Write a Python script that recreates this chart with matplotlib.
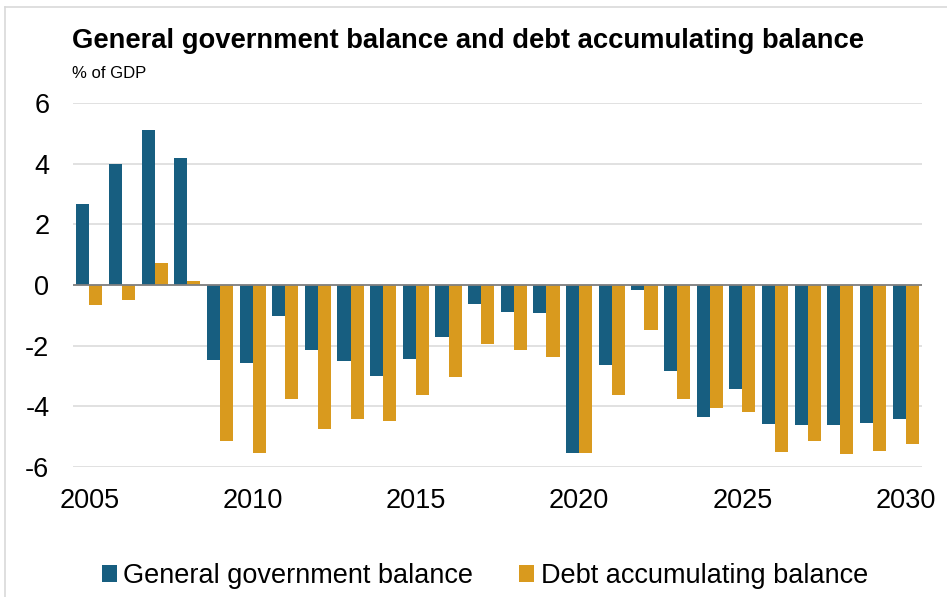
import matplotlib
matplotlib.use("Agg")
import matplotlib.pyplot as plt
from matplotlib.patches import Patch
from matplotlib.lines import Line2D
import numpy as np

plt.rcParams['font.family'] = ['Liberation Sans', 'DejaVu Sans']

years = list(range(2005, 2031))
gg_balance = [2.67, 4.0, 5.1, 4.18, -2.47, -2.57, -1.01, -2.15, -2.51, -2.99,
              -2.43, -1.70, -0.63, -0.88, -0.93, -5.54, -2.65, -0.16, -2.85, -4.35,
              -3.42, -4.57, -4.63, -4.62, -4.54, -4.43]
debt_acc_balance = [-0.67, -0.49, 0.74, 0.13, -5.15, -5.54, -3.76, -4.74, -4.41, -4.48,
                    -3.62, -3.04, -1.96, -2.15, -2.36, -5.54, -3.63, -1.49, -3.77, -4.04,
                    -4.19, -5.51, -5.14, -5.56, -5.47, -5.25]
xtick_years = [2005, 2010, 2015, 2020, 2025, 2030]
yticks = [-6, -4, -2, 0, 2, 4, 6]

BLUE = "#175e80"
GOLD = "#d99a1e"

W, H = 947, 597
fig = plt.figure(figsize=(W / 100, H / 100), dpi=100)
ax = fig.add_axes([73 / W, (H - 467) / H, (922 - 73) / W, (467 - 103) / H])

x = np.arange(len(years))
bw = 0.4
ax.bar(x - bw / 2, gg_balance, width=bw, color=BLUE, zorder=3)
ax.bar(x + bw / 2, debt_acc_balance, width=bw, color=GOLD, zorder=3)

ax.set_xlim(-0.5, len(years) - 0.5)
ax.set_ylim(-6, 6)
ax.set_yticks(yticks)
ax.set_yticklabels([str(v) for v in yticks])
ax.set_xticks([years.index(y) for y in xtick_years])
ax.set_xticklabels([str(y) for y in xtick_years])
ax.tick_params(axis='y', length=0, pad=17, labelsize=19.5)
ax.tick_params(axis='x', length=0, pad=15, labelsize=19.5)

for s in ax.spines.values():
    s.set_visible(False)
ax.grid(axis='y', color="#dcdcdc", linewidth=1.2, zorder=0)
ax.axhline(0, color="#808080", linewidth=1.3, zorder=4)

fig.text(72 / W, 1 - 48 / H, "General government balance and debt accumulating balance",
         fontsize=19.75, fontweight='bold', ha='left', va='baseline')
fig.text(72 / W, 1 - 78 / H, "% of GDP", fontsize=12, ha='left', va='baseline')

handles = [Patch(facecolor=BLUE, edgecolor='none', label="General government balance"),
           Patch(facecolor=GOLD, edgecolor='none', label="Debt accumulating balance")]
fig.legend(handles=handles, loc='center', bbox_to_anchor=(485 / W, 21 / H), ncol=2,
           frameon=False, fontsize=19.5, handlelength=0.55, handleheight=0.55,
           handletextpad=0.25, columnspacing=1.7, borderpad=0)

# light frame around the graphic
fig.add_artist(Line2D([5 / W, 1], [1 - 7 / H, 1 - 7 / H], transform=fig.transFigure,
                      color="#d9d9d9", linewidth=1.2))
fig.add_artist(Line2D([5 / W, 5 / W], [0, 1 - 7 / H], transform=fig.transFigure,
                      color="#d9d9d9", linewidth=1.2))

fig.savefig("out.png", dpi=100)
